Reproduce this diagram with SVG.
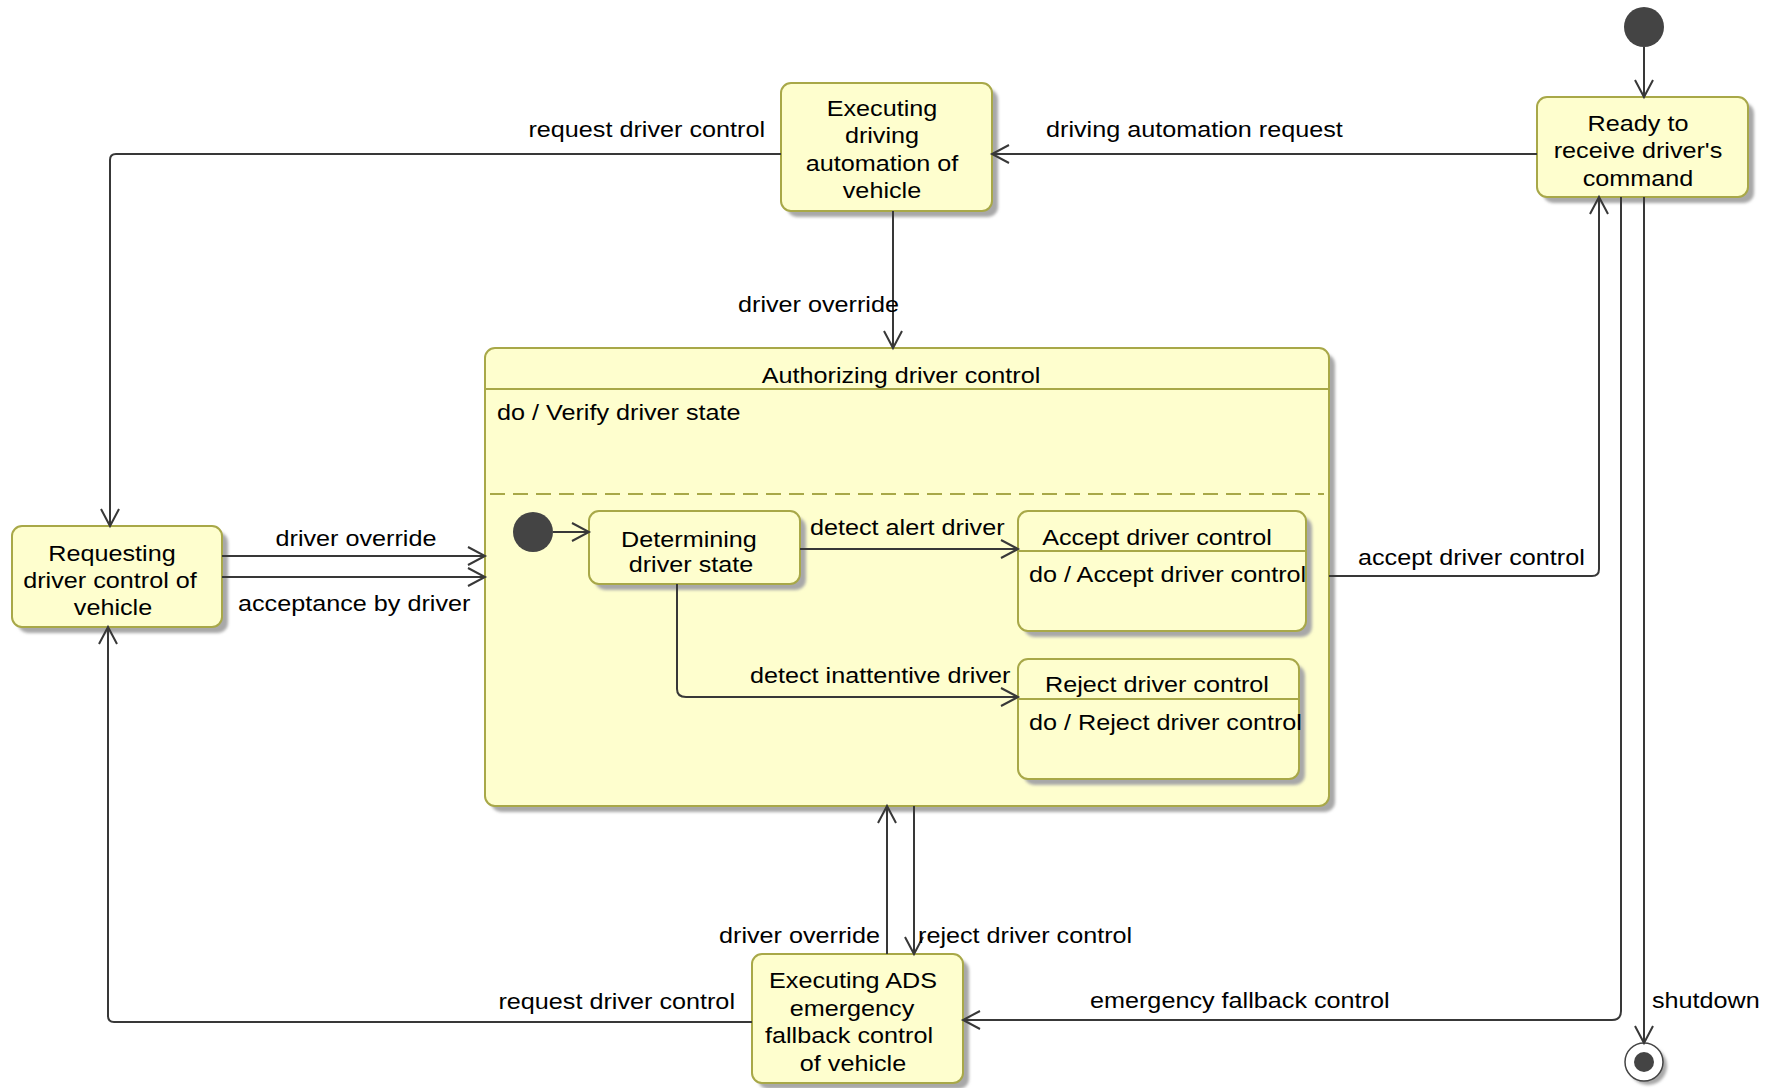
<svg xmlns="http://www.w3.org/2000/svg" width="1773" height="1088" viewBox="0 0 1773 1088">
  <style>
    .state { fill: #FEFECE; stroke: #A8A848; stroke-width: 2; }
    .shadow { fill: #A8A8A8; filter: url(#soft); }
    .sep { stroke: #A8A848; stroke-width: 2; fill: none; }
    .edge { stroke: #383838; stroke-width: 2; fill: none; marker-end: url(#open); }
    text { font-family: "Liberation Sans", Arial, sans-serif; font-size: 22.3px; fill: #000;
           transform-box: fill-box; transform: scaleX(1.13); transform-origin: left center; }
    .c { text-anchor: middle; transform-origin: center; }
    .e { text-anchor: end; transform-origin: right center; }
    .dot { fill: #444444; }
  </style>
  <defs>
    <filter id="soft" x="-10%" y="-10%" width="120%" height="120%">
      <feGaussianBlur stdDeviation="1.5"/>
    </filter>
    <marker id="open" markerUnits="userSpaceOnUse" markerWidth="24" markerHeight="24" viewBox="-20 -12 24 24" refX="0" refY="0" orient="auto">
      <path d="M -17 -9 L 0 0 L -17 9" fill="none" stroke="#383838" stroke-width="2"/>
    </marker>
  </defs>

  <rect width="1773" height="1088" fill="#FFFFFF"/>

  <!-- start pseudo-state -->
  <g id="start">
    <circle class="dot" cx="1644" cy="27" r="20"/>
  </g>

  <!-- Ready to receive driver's command -->
  <g id="ready">
    <rect class="shadow" x="1543" y="103" width="211" height="100" rx="10"/>
    <rect class="state" x="1537" y="97" width="211" height="100" rx="10"/>
    <text class="c" x="1638" y="131">Ready to</text>
    <text class="c" x="1638" y="158.5">receive driver's</text>
    <text class="c" x="1638" y="186">command</text>
  </g>

  <!-- Executing driving automation of vehicle -->
  <g id="executing">
    <rect class="shadow" x="787" y="89" width="211" height="128" rx="10"/>
    <rect class="state" x="781" y="83" width="211" height="128" rx="10"/>
    <text class="c" x="882" y="116">Executing</text>
    <text class="c" x="882" y="143.5">driving</text>
    <text class="c" x="882" y="171">automation of</text>
    <text class="c" x="882" y="198.5">vehicle</text>
  </g>

  <!-- Requesting driver control of vehicle -->
  <g id="requesting">
    <rect class="shadow" x="18" y="532" width="210" height="101" rx="10"/>
    <rect class="state" x="12" y="526" width="210" height="101" rx="10"/>
    <text class="c" x="112" y="561.5">Requesting</text>
    <text class="c" x="110" y="588">driver control of</text>
    <text class="c" x="113" y="615">vehicle</text>
  </g>

  <!-- Authorizing driver control (composite) -->
  <g id="authorizing">
    <rect class="shadow" x="491" y="354" width="844" height="458" rx="10"/>
    <rect class="state" x="485" y="348" width="844" height="458" rx="10"/>
    <line class="sep" x1="485" y1="389" x2="1329" y2="389"/>
    <text class="c" x="901" y="383">Authorizing driver control</text>
    <text x="497" y="420">do / Verify driver state</text>
    <line class="sep" x1="490" y1="494" x2="1324" y2="494" stroke-dasharray="15 8"/>
  </g>

  <g id="inner-start">
    <circle class="dot" cx="533" cy="532" r="20"/>
  </g>

  <g id="determining">
    <rect class="shadow" x="595" y="517" width="211" height="73" rx="10"/>
    <rect class="state" x="589" y="511" width="211" height="73" rx="10"/>
    <text class="c" x="689" y="547">Determining</text>
    <text class="c" x="691" y="572">driver state</text>
  </g>

  <g id="accept">
    <rect class="shadow" x="1024" y="517" width="288" height="120" rx="10"/>
    <rect class="state" x="1018" y="511" width="288" height="120" rx="10"/>
    <line class="sep" x1="1018" y1="551" x2="1306" y2="551"/>
    <text class="c" x="1157" y="545">Accept driver control</text>
    <text x="1029" y="582">do / Accept driver control</text>
  </g>

  <g id="reject">
    <rect class="shadow" x="1024" y="665" width="281" height="120" rx="10"/>
    <rect class="state" x="1018" y="659" width="281" height="120" rx="10"/>
    <line class="sep" x1="1018" y1="699" x2="1299" y2="699"/>
    <text class="c" x="1157" y="692">Reject driver control</text>
    <text x="1029" y="730">do / Reject driver control</text>
  </g>

  <!-- Executing ADS emergency fallback control of vehicle -->
  <g id="fallback">
    <rect class="shadow" x="758" y="960" width="211" height="129" rx="10"/>
    <rect class="state" x="752" y="954" width="211" height="129" rx="10"/>
    <text class="c" x="853" y="988">Executing ADS</text>
    <text class="c" x="852" y="1016">emergency</text>
    <text class="c" x="849" y="1043">fallback control</text>
    <text class="c" x="853" y="1071">of vehicle</text>
  </g>

  <!-- final pseudo-state -->
  <g id="end">
    <circle cx="1648" cy="1066" r="19" fill="#A8A8A8" filter="url(#soft)"/>
    <circle cx="1644" cy="1062" r="19" fill="#FFFFFF" stroke="#444444" stroke-width="1.5"/>
    <circle class="dot" cx="1644" cy="1062" r="10"/>
  </g>

  <!-- transitions -->
  <g id="connectors">
    <path class="edge" d="M 1644 47 L 1644 97"/>

    <path class="edge" d="M 1537 154 L 992 154"/>
    <text x="1046" y="137">driving automation request</text>

    <path class="edge" d="M 781 154 L 116 154 Q 110 154 110 160 L 110 526"/>
    <text class="e" x="765" y="137">request driver control</text>

    <path class="edge" d="M 893 211 L 893 348"/>
    <text x="738" y="312">driver override</text>

    <path class="edge" d="M 222 556 L 485 556"/>
    <text class="c" x="356" y="546">driver override</text>

    <path class="edge" d="M 222 577 L 485 577"/>
    <text x="238" y="611">acceptance by driver</text>

    <path class="edge" d="M 553 532 L 589 532"/>

    <path class="edge" d="M 800 549 L 1018 549"/>
    <text x="810" y="535">detect alert driver</text>

    <path class="edge" d="M 677 584 L 677 689 Q 677 697 686 697 L 1018 697"/>
    <text x="750" y="683">detect inattentive driver</text>

    <path class="edge" d="M 1329 576 L 1592 576 Q 1599 576 1599 569 L 1599 197"/>
    <text x="1358" y="565">accept driver control</text>

    <path class="edge" d="M 1621 197 L 1621 1011 Q 1621 1020 1612 1020 L 963 1020"/>
    <text x="1090" y="1008">emergency fallback control</text>

    <path class="edge" d="M 1644 197 L 1644 1043"/>
    <text x="1652" y="1008">shutdown</text>

    <path class="edge" d="M 887 954 L 887 806"/>
    <text class="e" x="880" y="943">driver override</text>

    <path class="edge" d="M 914 806 L 914 954"/>
    <text x="918" y="943">reject driver control</text>

    <path class="edge" d="M 752 1022 L 114 1022 Q 108 1022 108 1016 L 108 627"/>
    <text class="e" x="735" y="1009">request driver control</text>
  </g>
</svg>
